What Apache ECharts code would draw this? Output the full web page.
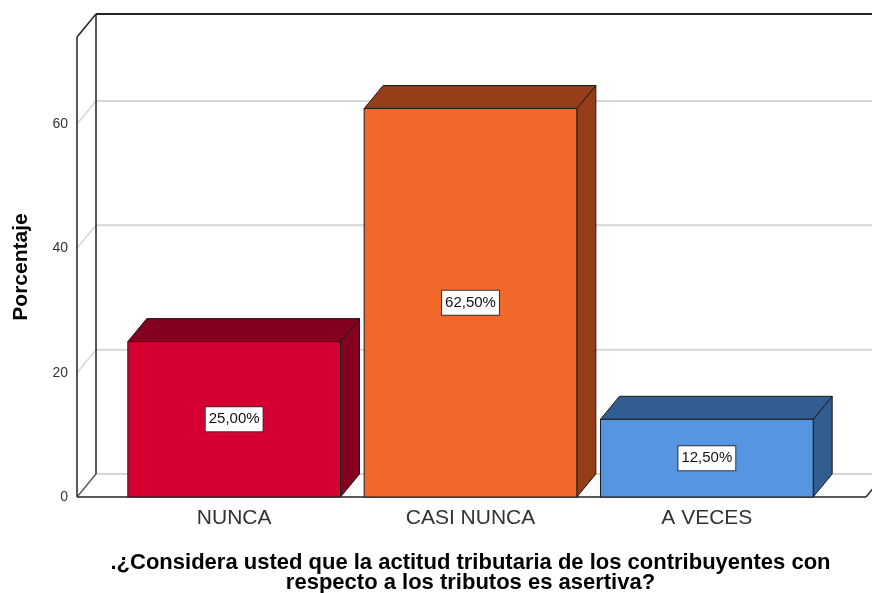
<!DOCTYPE html>
<html>
<head>
<meta charset="utf-8">
<script src="https://cdn.jsdelivr.net/npm/echarts@6/dist/echarts.min.js"></script>
<style>
  html, body { margin: 0; padding: 0; background: #fff; }
  #chart { width: 872px; height: 593px; }
</style>
</head>
<body>
<div id="chart"></div>
<script>
const categories = ['NUNCA', 'CASI NUNCA', 'A VECES'];
const percentages = [25.0, 62.5, 12.5];
const yTicks = [0, 20, 40, 60];
const frontColors = ['#d50031', '#f2682b', '#5595e2'];
const darkColors = ['#84001f', '#963e1a', '#325d91'];

// depth of the 3d box, in pixels
const DX = 19;
const DY = -23;
const PAD_L = 39;
const PAD_R = 41;
const BAR_RATIO = 0.9;
const FONT = "'Liberation Sans', Arial, sans-serif";

const fmtPct = v => v.toFixed(2).replace('.', ',') + '%';

const renderFrame = (params, api) => {
    const cs = params.coordSys;
    const y0 = api.coord([0, 0])[1];
    const yTop = cs.y;
    const fl = cs.x - PAD_L;
    const fr = cs.x + cs.width + PAD_R;
    const children = [];
    const line = (x1, y1, x2, y2, color, w) => children.push({
        type: 'line',
        shape: { x1: x1, y1: y1, x2: x2, y2: y2 },
        style: { stroke: color, lineWidth: w }
    });

    yTicks.forEach(v => {
        const y = api.coord([0, v])[1];
        line(fl, y, fl + DX, y + DY, '#d6d6d6', 1.5);
        line(fl + DX, y + DY, fr + DX, y + DY, '#d6d6d6', 2);
    });

    // floor
    line(fl, y0, fr, y0, '#222', 1.5);
    line(fl, y0, fl + DX, y0 + DY, '#555', 1.2);
    line(fr, y0, fr + DX, y0 + DY, '#333', 1.5);
    // left wall + top edge
    line(fl, y0, fl, yTop, '#222', 1.5);
    line(fl + DX, y0 + DY, fl + DX, yTop + DY, '#222', 1.5);
    line(fl, yTop, fl + DX, yTop + DY, '#222', 1.5);
    line(fl + DX, yTop + DY, fr + DX, yTop + DY, '#222', 2);

    return { type: 'group', children: children };
};

const renderBar = (params, api) => {
    const i = params.dataIndex;
    const cat = api.value(0);
    const val = api.value(1);
    const base = api.coord([cat, 0]);
    const cx = base[0];
    const y0 = base[1];
    const yv = api.coord([cat, val])[1];
    const ymid = api.coord([cat, val / 2])[1];
    const bw = api.size([1, 0])[0] * BAR_RATIO;
    const x0 = cx - bw / 2;
    const x1 = cx + bw / 2;
    const edge = { stroke: '#1a1a1a', lineWidth: 1 };

    return {
        type: 'group',
        children: [
            {
                type: 'polygon',
                shape: { points: [[x1, yv], [x1 + DX, yv + DY], [x1 + DX, y0 + DY], [x1, y0]] },
                style: Object.assign({ fill: darkColors[i] }, edge)
            },
            {
                type: 'polygon',
                shape: { points: [[x0, yv], [x1, yv], [x1 + DX, yv + DY], [x0 + DX, yv + DY]] },
                style: Object.assign({ fill: darkColors[i] }, edge)
            },
            {
                type: 'rect',
                shape: { x: x0, y: yv, width: bw, height: y0 - yv },
                style: Object.assign({ fill: frontColors[i] }, edge)
            },
            {
                type: 'text',
                x: cx,
                y: ymid,
                style: {
                    text: fmtPct(val),
                    align: 'center',
                    verticalAlign: 'middle',
                    font: '15px ' + FONT,
                    fill: '#111',
                    backgroundColor: '#fff',
                    borderColor: '#333',
                    borderWidth: 1,
                    lineHeight: 17,
                    padding: [4, 3, 3, 3]
                }
            }
        ]
    };
};

const chart = echarts.init(document.getElementById('chart'));

chart.setOption({
    animation: false,
    grid: {
        left: 116, right: 47, top: 37, bottom: 96,
        containLabel: false,
        outerBoundsMode: 'none'
    },
    xAxis: {
        type: 'category',
        data: categories,
        axisLine: { show: false },
        axisTick: { show: false },
        axisLabel: {
            margin: 11,
            fontSize: 21,
            fontFamily: FONT,
            color: '#333'
        },
        name: '.¿Considera usted que la actitud tributaria de los contribuyentes con\nrespecto a los tributos es asertiva?',
        nameLocation: 'middle',
        nameGap: 56,
        nameTextStyle: {
            fontSize: 22,
            fontWeight: 'bold',
            fontFamily: FONT,
            color: '#000',
            lineHeight: 20
        }
    },
    yAxis: {
        type: 'value',
        min: 0,
        max: 74,
        interval: 20,
        axisLine: { show: false },
        axisTick: { show: false },
        splitLine: { show: false },
        axisLabel: {
            margin: 48,
            fontSize: 14,
            fontFamily: FONT,
            color: '#333',
            showMaxLabel: false
        },
        name: 'Porcentaje',
        nameLocation: 'middle',
        nameRotate: 90,
        nameGap: 84,
        nameTextStyle: {
            fontSize: 21,
            fontWeight: 'bold',
            fontFamily: FONT,
            color: '#000'
        }
    },
    series: [
        {
            type: 'custom',
            silent: true,
            clip: false,
            z: 1,
            renderItem: renderFrame,
            data: [[0, 0]]
        },
        {
            type: 'custom',
            silent: true,
            clip: false,
            z: 2,
            renderItem: renderBar,
            data: percentages.map((v, i) => [i, v])
        }
    ]
});
</script>
</body>
</html>
